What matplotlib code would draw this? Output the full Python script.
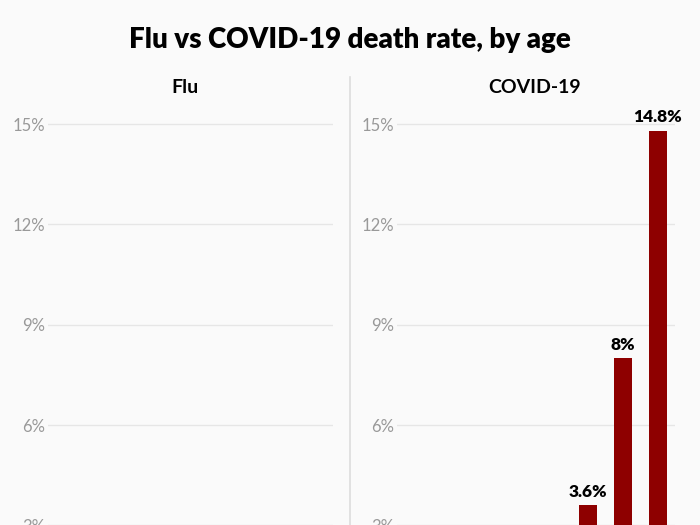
import matplotlib.pyplot as plt

# death rates by age (percent)
flu_ages = ["0-4", "5-17", "18-49", "50-64", "65+"]
flu_rates = [0.02, 0.01, 0.03, 0.1, 0.8]

covid_ages = ["10-19", "20-29", "30-39", "40-49", "50-59", "60-69", "70-79", "80+"]
covid_rates = [0.2, 0.2, 0.2, 0.4, 1.3, 3.6, 8.0, 14.8]

y_ticks = [0, 3, 6, 9, 12, 15]

BG = "#fafafa"
BAR = "#8e0000"
GRID = "#e6e6e6"
TICK = "#999999"
FONT = "Lato"

plt.rcParams["font.family"] = [FONT, "DejaVu Sans"]

fig = plt.figure(figsize=(7, 5.25), dpi=100)
fig.patch.set_facecolor(BG)

W, H = 700.0, 525.0
zero_px = 625.6  # pixel row of 0% (from top), below the visible area
per_pct = 33.43
ymax = 16
bottom = (H - zero_px) / H
height = ymax * per_pct / H


def draw_panel(ax, ages, rates):
    ax.set_facecolor(BG)
    x = list(range(len(ages)))
    ax.bar(x, rates, width=0.52, color=BAR, zorder=3)
    for xi, v in zip(x, rates):
        ax.annotate(f"{v:g}%", (xi, v), xytext=(0, 4), textcoords="offset points",
                    ha="center", va="bottom", fontsize=12.5, fontweight="heavy",
                    color="black", zorder=4)
    ax.set_ylim(0, ymax)
    ax.set_xlim(-0.5, len(ages) - 0.5)
    ax.set_yticks(y_ticks)
    ax.set_yticklabels([f"{t}%" for t in y_ticks])
    # age labels sit below the visible crop of the chart
    ax.set_xticks([])
    ax.tick_params(axis="y", length=0, pad=2, labelsize=12, labelcolor=TICK)
    ax.grid(axis="y", color=GRID, linewidth=1, zorder=0)
    for s in ax.spines.values():
        s.set_visible(False)


ax1 = fig.add_axes([48 / W, bottom, 285 / W, height])
draw_panel(ax1, flu_ages, flu_rates)

ax2 = fig.add_axes([397 / W, bottom, 278 / W, height])
draw_panel(ax2, covid_ages, covid_rates)

fig.text(0.5, 1 - 40 / H, "Flu vs COVID-19 death rate, by age", ha="center", va="center",
         fontsize=20, fontweight="heavy")
fig.text(185 / W, 1 - 88 / H, "Flu", ha="center", va="center", fontsize=14, fontweight="bold")
fig.text(535 / W, 1 - 88 / H, "COVID-19", ha="center", va="center", fontsize=14,
         fontweight="bold")

# divider between panels
fig.add_artist(plt.Line2D([350.5 / W, 350.5 / W], [0, 1 - 77 / H], color="#dcdcdc",
                          linewidth=1.2, transform=fig.transFigure))

fig.savefig("out.png", dpi=100, facecolor=BG)
